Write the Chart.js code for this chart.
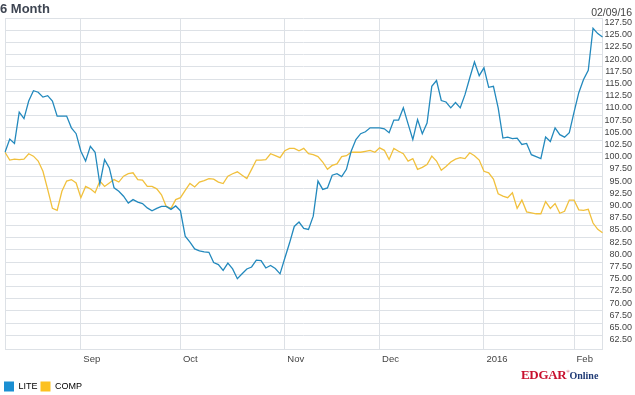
<!DOCTYPE html>
<html>
<head>
<meta charset="utf-8">
<script src="https://cdn.jsdelivr.net/npm/chart.js@4.4.0/dist/chart.umd.min.js"></script>
<style>
    html, body { margin: 0; padding: 0; background: #fff; overflow: hidden; }
    #wrap { position: relative; width: 635px; height: 395px; }
    #title { position: absolute; left: 0; top: 1px; font: bold 13px/15px 'Liberation Sans', Arial, sans-serif; color: #3e4552; }
    #asof { position: absolute; right: 3px; top: 6px; font: 10.5px/12px 'Liberation Sans', Arial, sans-serif; color: #444; }
    #logo { position: absolute; left: 521px; top: 365px; line-height: 14px; white-space: nowrap; font-family: 'Liberation Serif', 'Times New Roman', serif; font-weight: bold; }
    #logo .edgar { font-size: 13px; color: #c8102e; letter-spacing: -0.3px; }
    #logo .reg { font-size: 4px; color: #c8102e; vertical-align: 6px; }
    #logo .online { font-size: 10px; color: #1f3a75; }
</style>
</head>
<body>
<div id="wrap">
    <canvas id="chart" width="635" height="395"></canvas>
    <div id="title">6 Month</div>
    <div id="asof">02/09/16</div>
    <div id="logo"><span class="edgar">EDGAR</span><span class="reg">®</span><span class="online">Online</span></div>
</div>
<script>
// trading calendar for the 6 month window (ends 02/09/16)
const startDate = '2015-08-10';
const tradingDayCount = 127;
const marketHolidays = ['2015-09-07', '2015-11-26', '2015-12-25', '2016-01-01', '2016-01-18'];
const monthNames = ['Jan', 'Feb', 'Mar', 'Apr', 'May', 'Jun', 'Jul', 'Aug', 'Sep', 'Oct', 'Nov', 'Dec'];

const seriesNames = ['LITE', 'COMP'];

// rebased to 100 at the first day
const liteValues = [
    100.0, 102.7, 101.8, 108.2, 106.9, 110.5, 112.6, 112.3, 111.3, 111.6,
    110.5, 107.4, 107.4, 107.4, 105.0, 103.8, 100.2, 98.2, 101.2, 100.0,
    93.5, 98.5, 96.8, 92.7, 92.0, 91.0, 89.6, 90.3, 89.8, 89.5,
    88.6, 88.0, 88.5, 88.9, 88.9, 88.3, 89.0, 88.0, 82.8, 81.6,
    80.2, 79.8, 79.6, 79.5, 77.4, 77.0, 75.8, 77.3, 76.1, 74.1,
    75.1, 76.1, 76.5, 77.9, 77.8, 76.3, 76.8, 76.2, 75.1, 78.3,
    81.4, 84.8, 85.7, 84.4, 84.2, 86.9, 94.1, 92.4, 92.7, 95.3,
    95.6, 95.0, 96.5, 100.2, 102.6, 103.8, 104.2, 105.0, 105.0, 105.0,
    104.8, 104.0, 106.6, 106.6, 109.1, 105.8, 102.6, 106.7, 103.8, 106.0,
    113.5, 114.7, 110.6, 110.3, 109.1, 110.2, 109.1, 111.8, 115.2, 118.5,
    115.7, 117.3, 113.3, 113.5, 109.1, 102.9, 103.1, 102.8, 102.9, 101.6,
    101.8, 99.5, 99.1, 98.7, 103.1, 102.2, 105.0, 103.6, 103.1, 104.0,
    108.2, 112.2, 114.9, 116.8, 125.4, 124.3, 123.6
];

const compValues = [
    100.0, 98.4, 98.6, 98.5, 98.6, 99.7, 99.2, 98.2, 96.1, 92.4,
    88.5, 88.1, 92.0, 94.1, 94.4, 93.7, 90.7, 93.0, 92.5, 91.7,
    94.1, 93.0, 93.7, 94.4, 93.9, 95.1, 95.6, 95.8, 94.4, 94.3,
    93.0, 93.0, 92.5, 91.3, 88.9, 88.5, 90.3, 90.7, 92.2, 93.6,
    92.9, 93.9, 94.2, 94.6, 94.5, 93.9, 93.6, 95.1, 95.6, 96.0,
    95.3, 94.6, 96.5, 98.4, 98.4, 98.5, 99.7, 99.3, 98.9, 100.3,
    100.8, 100.8, 100.3, 100.8, 99.7, 99.5, 99.1, 98.0, 96.5, 97.3,
    97.6, 99.1, 99.3, 100.0, 100.0, 100.0, 100.2, 100.4, 100.0, 100.9,
    100.4, 98.5, 100.8, 100.2, 99.7, 98.2, 98.7, 96.5, 96.9, 97.5,
    99.2, 98.2, 96.3, 97.1, 98.0, 98.6, 98.9, 98.7, 99.9, 99.3,
    98.4, 96.1, 95.8, 94.5, 91.5, 91.0, 90.7, 91.7, 88.5, 90.2,
    87.8, 87.6, 87.4, 87.4, 89.9, 88.5, 89.5, 87.5, 87.9, 90.2,
    90.2, 88.2, 88.1, 88.3, 85.5, 84.2, 83.5
];

const yMin = 59.7;
const yMax = 127.5;
const yStep = 2.5;

const GRID = '#dde1e6';
const TEXT = '#444';
const FONT = "'Liberation Sans', Arial, sans-serif";

function buildTradingDays() {
    const days = [];
    const d = new Date(startDate + 'T12:00:00Z');
    while (days.length < tradingDayCount) {
        const iso = d.toISOString().slice(0, 10);
        const wd = d.getUTCDay();
        if (wd !== 0 && wd !== 6 && !marketHolidays.includes(iso)) days.push(iso);
        d.setUTCDate(d.getUTCDate() + 1);
    }
    return days;
}

const days = buildTradingDays();
const monthStart = new Set();
days.forEach((day, i) => {
    if (i > 0 && day.slice(5, 7) !== days[i - 1].slice(5, 7)) monthStart.add(i);
});

function monthLabel(i) {
    const m = parseInt(days[i].slice(5, 7));
    return m === 1 ? days[i].slice(0, 4) : monthNames[m - 1];
}

Chart.defaults.font.family = FONT;
Chart.defaults.color = TEXT;

new Chart(document.getElementById('chart'), {
    type: 'line',
    data: {
        labels: days,
        datasets: [
            {
                label: seriesNames[0],
                data: liteValues,
                borderColor: '#2389bd',
                backgroundColor: '#1b8fd2',
                borderWidth: 1.3,
                pointRadius: 0,
                tension: 0
            },
            {
                label: seriesNames[1],
                data: compValues,
                borderColor: '#f1c03c',
                backgroundColor: '#fcc120',
                borderWidth: 1.3,
                pointRadius: 0,
                tension: 0
            }
        ]
    },
    options: {
        responsive: false,
        animation: false,
        layout: {
            padding: { top: 18, left: 1, right: 3, bottom: -6.5 }
        },
        plugins: {
            tooltip: { enabled: false },
            legend: {
                position: 'bottom',
                align: 'start',
                labels: {
                    boxWidth: 10,
                    boxHeight: 10,
                    padding: 3,
                    font: { size: 9 },
                    color: '#222',
                    generateLabels: (chart) => chart.data.datasets.map((ds, i) => ({
                        text: ds.label,
                        fillStyle: ds.backgroundColor,
                        strokeStyle: ds.backgroundColor,
                        lineWidth: 0,
                        datasetIndex: i
                    }))
                }
            }
        },
        scales: {
            x: {
                offset: false,
                grid: {
                    drawTicks: false,
                    color: (ctx) => (ctx.index === 0 || monthStart.has(ctx.index)) ? GRID : 'transparent'
                },
                border: { color: GRID },
                ticks: {
                    autoSkip: false,
                    maxRotation: 0,
                    align: 'start',
                    labelOffset: 2.5,
                    padding: 5,
                    font: { size: 9.5 },
                    callback: (value, index) => monthStart.has(index) ? monthLabel(index) : ''
                },
                afterFit: (scale) => { scale.height = 29.5; }
            },
            y: {
                position: 'right',
                min: yMin,
                max: yMax,
                grid: { drawTicks: false, color: GRID },
                border: { color: GRID },
                ticks: {
                    stepSize: yStep,
                    autoSkip: false,
                    crossAlign: 'far',
                    padding: 2,
                    labelOffset: 4.5,
                    font: { size: 9 },
                    callback: (value) => value < 62 ? '' : value.toFixed(2)
                },
                afterFit: (scale) => { scale.width = 29.5; }
            }
        }
    }
});
</script>
</body>
</html>
